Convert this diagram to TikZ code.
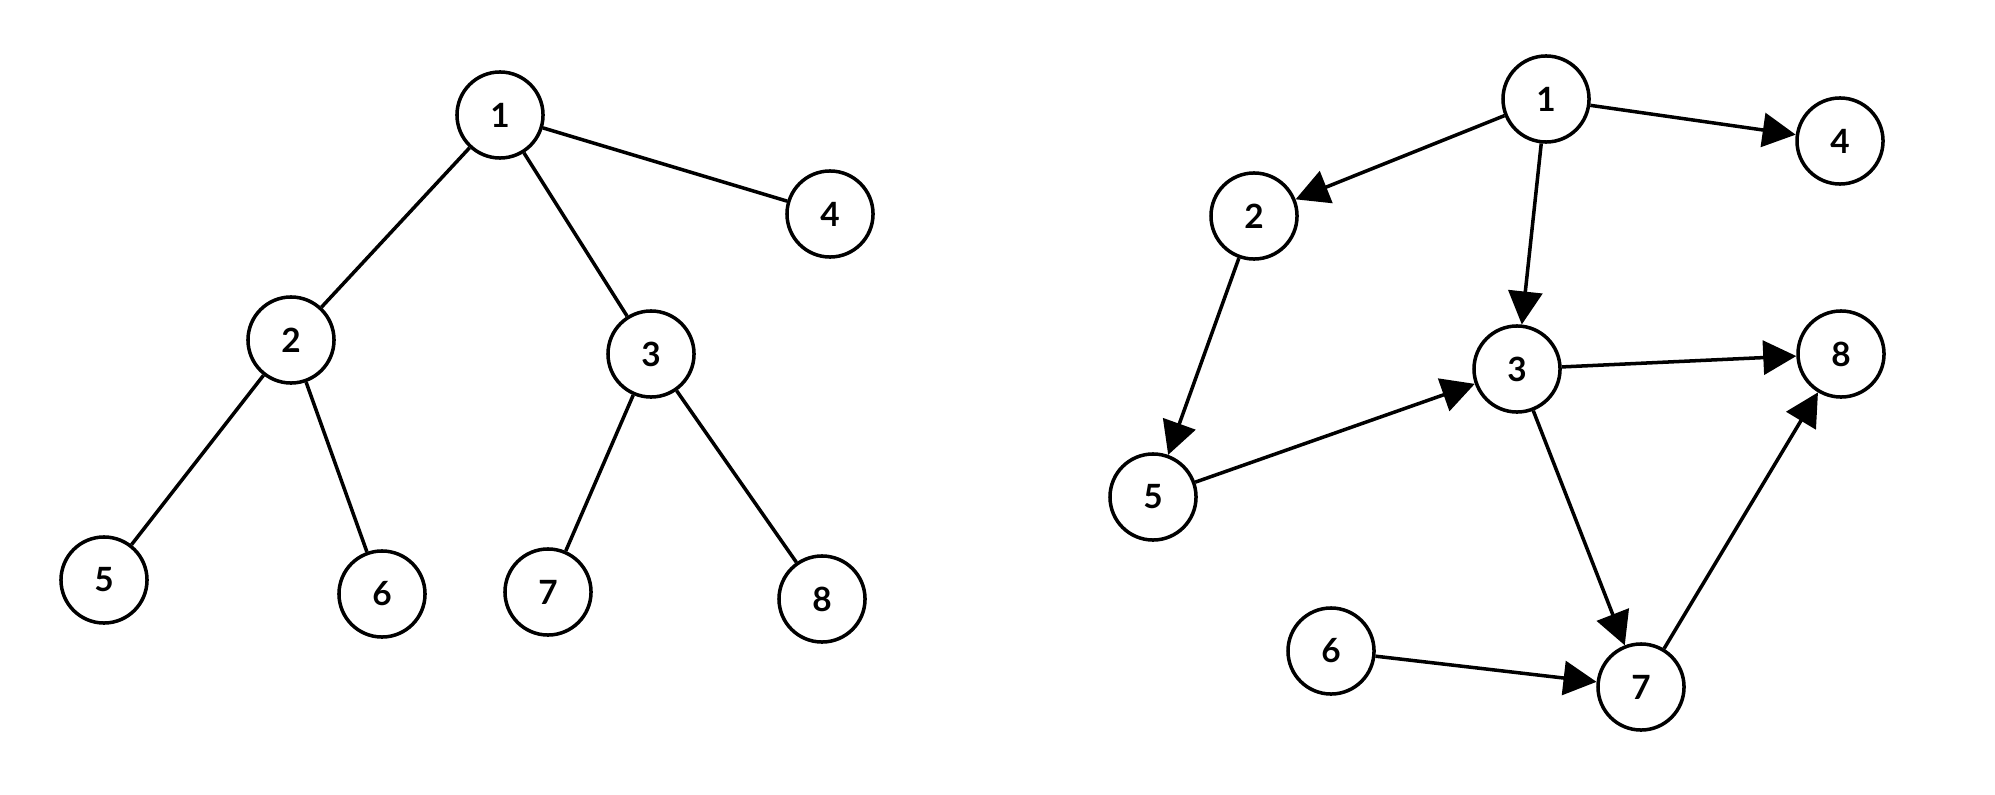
\documentclass[tikz,border=0pt]{standalone}
\usepackage{fontspec}
\setmainfont{Lato}
\usetikzlibrary{arrows.meta, positioning}
\tikzstyle{vertex} = [circle, draw=black, line width=1pt, minimum size=0.86cm, inner sep=0pt, fill=white, font=\bfseries\fontsize{9.5}{10}\selectfont]
\tikzstyle{edge} = [line width=1pt]
\tikzstyle{arrow} = [line width=1pt, -{Triangle[length=0.33cm, width=0.34cm]}]

\begin{document}
\begin{tikzpicture}[x=0.01cm, y=-0.01cm]
        \useasboundingbox (0,0) rectangle (1995,794);
        % tree
        \node (t1) [vertex] at (500,115) {1};
        \node (t2) [vertex] at (291,340) {2};
        \node (t3) [vertex] at (651,354) {3};
        \node (t4) [vertex] at (830,214) {4};
        \node (t5) [vertex] at (104,580) {5};
        \node (t6) [vertex] at (382,594) {6};
        \node (t7) [vertex] at (548,592) {7};
        \node (t8) [vertex] at (822,599) {8};

        \draw [edge] (t1) -- (t2);
        \draw [edge] (t1) -- (t3);
        \draw [edge] (t1) -- (t4);
        \draw [edge] (t2) -- (t5);
        \draw [edge] (t2) -- (t6);
        \draw [edge] (t3) -- (t7);
        \draw [edge] (t3) -- (t8);

        % directed graph
        \node (d1) [vertex] at (1546,99) {1};
        \node (d2) [vertex] at (1254,216) {2};
        \node (d3) [vertex] at (1517,369) {3};
        \node (d4) [vertex] at (1840,141) {4};
        \node (d5) [vertex] at (1153,497) {5};
        \node (d6) [vertex] at (1331,651) {6};
        \node (d7) [vertex] at (1641,687) {7};
        \node (d8) [vertex] at (1841,354) {8};

        \draw [arrow] (d1) -- (d2);
        \draw [arrow] (d1) -- (d4);
        \draw [arrow] (d1) -- (d3);
        \draw [arrow] (d2) -- (d5);
        \draw [arrow] (d5) -- (d3);
        \draw [arrow] (d3) -- (d8);
        \draw [arrow] (d3) -- (d7);
        \draw [arrow] (d6) -- (d7);
        \draw [arrow] (d7) -- (d8);
    \end{tikzpicture}
\end{document}
